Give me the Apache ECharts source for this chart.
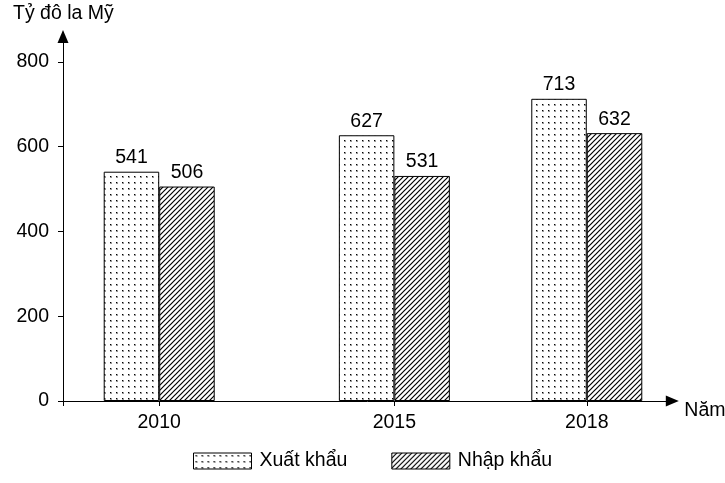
<!DOCTYPE html>
<html><head><meta charset="utf-8">
<script src="https://cdn.jsdelivr.net/npm/echarts@6/dist/echarts.min.js"></script>
<style>html,body{margin:0;padding:0;background:#fff}#c{width:725px;height:483px}</style>
</head><body><div id="c"></div>
<script>
// ---- data ----
const years = ['2010', '2015', '2018'];
const exportVals = [541, 627, 713];
const importVals = [506, 531, 632];
const yTicks = [0, 200, 400, 600, 800];
const seriesNames = ['Xuất khẩu', 'Nhập khẩu'];
const yUnit = 'Tỷ đô la Mỹ';
const xUnit = 'Năm';

// ---- layout (category slots on a fine axis, so spacing matches reference) ----
const slotCount = 58;
const yearSlots = [9, 31, 49];

const cats = Array.from({length: slotCount}, () => '');
yearSlots.forEach((s, i) => { cats[s] = years[i]; });
const expData = cats.map(() => null);
const impData = cats.map(() => null);
yearSlots.forEach((s, i) => { expData[s] = exportVals[i]; impData[s] = importVals[i]; });

function dotPattern() {
  const c = document.createElement('canvas'); c.width = 6; c.height = 6;
  const g = c.getContext('2d');
  g.fillStyle = '#fff'; g.fillRect(0, 0, 6, 6);
  g.fillStyle = '#999'; g.fillRect(2, 2, 2, 2);
  g.fillStyle = '#000'; g.fillRect(2, 2, 1, 1);
  return c;
}
function hatchPattern() {
  const n = 5;
  const c = document.createElement('canvas'); c.width = n; c.height = n;
  const g = c.getContext('2d');
  g.fillStyle = '#fff'; g.fillRect(0, 0, n, n);
  g.strokeStyle = '#000'; g.lineWidth = 1.2;
  g.beginPath();
  g.moveTo(-1, n + 1); g.lineTo(n + 1, -1);
  g.moveTo(-1, 1); g.lineTo(1, -1);
  g.moveTo(n - 1, n + 1); g.lineTo(n + 1, n - 1);
  g.stroke();
  return c;
}

const FONT = "'Liberation Sans', Arial, sans-serif";
const FS = 19.5;

const chart = echarts.init(document.getElementById('c'), null, {renderer: 'canvas'});
chart.setOption({
  animation: false,
  backgroundColor: '#fff',
  textStyle: {fontFamily: FONT, color: '#000'},
  title: {
    text: yUnit, left: 13, top: 4, padding: 0,
    textStyle: {fontFamily: FONT, fontSize: FS, fontWeight: 'normal', color: '#000'}
  },
  grid: {left: 63, right: 52.7, top: 36.5, bottom: 82, containLabel: false, outerBoundsMode: 'none'},
  legend: {
    data: seriesNames, left: 193, top: 451, padding: 0, itemWidth: 58, itemHeight: 16, itemGap: 44,
    icon: 'rect', selectedMode: false,
    itemStyle: {borderColor: '#000', borderWidth: 1},
    textStyle: {fontFamily: FONT, fontSize: FS, color: '#000', padding: [0, 0, 0, 3]}
  },
  xAxis: {
    type: 'category', data: cats, boundaryGap: false,
    name: xUnit, nameLocation: 'end', nameGap: 12,
    nameTextStyle: {fontFamily: FONT, fontSize: FS, color: '#000', verticalAlign: 'top', align: 'left'},
    axisLine: {show: true, lineStyle: {color: '#000', width: 1}, symbol: ['none', 'triangle'], symbolSize: [11, 13]},
    axisTick: {show: true, length: 5, lineStyle: {color: '#000'},
      interval: (idx, val) => idx === 0 || val !== ''},
    axisLabel: {interval: 0, margin: 12, fontFamily: FONT, fontSize: FS, color: '#000'},
    splitLine: {show: false}
  },
  yAxis: {
    type: 'value', min: 0, max: 860,
    axisLine: {show: true, lineStyle: {color: '#000', width: 1}, symbol: ['none', 'triangle'], symbolSize: [11, 13]},
    axisTick: {show: true, length: 5, lineStyle: {color: '#000'}, customValues: yTicks},
    axisLabel: {margin: 14, fontFamily: FONT, fontSize: FS, color: '#000', customValues: yTicks},
    splitLine: {show: false}
  },
  series: [
    {
      name: seriesNames[0], type: 'bar', data: expData, barWidth: 55.5, barGap: '0%',
      itemStyle: {color: {image: dotPattern(), repeat: 'repeat'}, borderColor: '#000', borderWidth: 1},
      label: {show: true, position: 'top', distance: 4, fontFamily: FONT, fontSize: FS, color: '#000'},
      emphasis: {disabled: true}
    },
    {
      name: seriesNames[1], type: 'bar', data: impData, barWidth: 55.5, barGap: '0%',
      itemStyle: {color: {image: hatchPattern(), repeat: 'repeat'}, borderColor: '#000', borderWidth: 1},
      label: {show: true, position: 'top', distance: 4, fontFamily: FONT, fontSize: FS, color: '#000'},
      emphasis: {disabled: true}
    }
  ]
});
</script>
</body></html>
